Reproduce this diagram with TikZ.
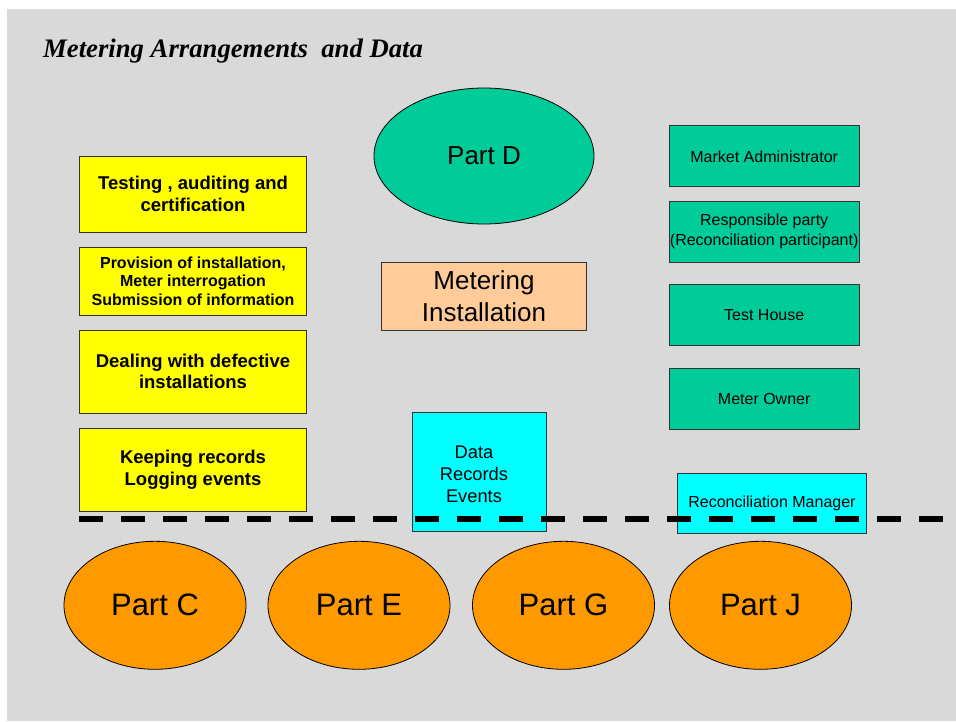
\documentclass[tikz,border=0pt]{standalone}
\usepackage{fontspec}
\setmainfont{Liberation Serif}
\setsansfont{Liberation Sans}
\usetikzlibrary{positioning, shapes.geometric}
\definecolor{panelgray}{RGB}{217,217,217}
\definecolor{taskyellow}{RGB}{255,255,0}
\definecolor{partygreen}{RGB}{0,204,153}
\definecolor{instpeach}{RGB}{255,204,153}
\definecolor{datacyan}{RGB}{0,255,255}
\definecolor{partorange}{RGB}{255,153,0}
\tikzstyle{task} = [draw=black!80,fill=taskyellow,rectangle,line width=1pt,minimum width=227pt,inner sep=0pt,outer sep=0pt,align=center,font=\sffamily\bfseries\fontsize{18.5}{21.5}\selectfont]
\tikzstyle{party} = [draw=black!80,fill=partygreen,rectangle,line width=1pt,minimum width=190pt,minimum height=61pt,inner sep=0pt,outer sep=0pt,align=center,font=\sffamily\fontsize{16}{19.5}\selectfont]
\tikzstyle{datastore} = [draw=black!80,fill=datacyan,rectangle,line width=1pt,inner sep=0pt]
\tikzstyle{part} = [draw,ellipse,line width=0.8pt,fill=partorange,inner sep=0pt,minimum width=182pt,minimum height=128pt,font=\sffamily\fontsize{31}{36}\selectfont]
\tikzstyle{cut} = [line width=6pt,dash pattern=on 24pt off 18pt]

\begin{document}
\begin{tikzpicture}[x=1pt,y=-1pt]
\useasboundingbox (0,0) rectangle (956,721);
\fill[panelgray] (7,9) rectangle (956,721);

  \node[anchor=base west, inner sep=0pt, font=\bfseries\itshape\fontsize{26.7}{30}\selectfont] (title) at (43,57) {Metering Arrangements\ \ and Data};

% the obligations, left column
  \node[task, minimum height=76pt] (testing) at (193,194) {Testing , auditing and\\certification};
  \node[task, minimum height=68pt, below = 15pt of testing, font=\sffamily\bfseries\fontsize{16}{18.7}\selectfont] (provision) {
  	Provision of installation,\\
  	Meter interrogation\\
  	Submission of information
  };
  \node[task, minimum height=83pt, below = 15pt of provision] (defects) {Dealing with defective\\installations};
  \node[task, minimum height=83pt, below = 15pt of defects] (records) {Keeping records\\Logging events};

% middle column
  \node[part, fill=partygreen, minimum width=220pt, minimum height=136pt, font=\sffamily\fontsize{26}{30}\selectfont] (partD) at (484,156) {Part D};

  \node[draw=black!80, fill=instpeach, line width=1pt, inner sep=0pt, minimum width=205pt, minimum height=68pt, align=center, font=\sffamily\fontsize{26}{31.7}\selectfont] (meter) at (484,296.3) {Metering\\Installation};

  \node[datastore, minimum width=134pt, minimum height=119pt] (data) at (479.3,472.2) {};
  \node[align=center, inner sep=0pt, font=\sffamily\fontsize{18.3}{22}\selectfont] (datatext) at (474,474) {Data\\Records\\Events};

% the parties, right column
  \node[party] (admin) at (764.2,156.3) {Market Administrator};
  \node[party, below = 14.3pt of admin] (responsible) {Responsible party\\(Reconciliation participant)};
  \node[party, below = 22.3pt of responsible] (testhouse) {Test House};
  \node[party, below = 22.7pt of testhouse] (owner) {Meter Owner};

  \node[datastore, minimum width=189.4pt, minimum height=60pt, font=\sffamily\fontsize{16}{19.5}\selectfont] (recman) at (772,503.3) {Reconciliation Manager};

% the parts of the code
  \node[part] (partC) at (155,605.3) {Part C};
  \node[part] (partE) at (359,605.3) {Part E};
  \node[part] (partG) at (563.5,605.3) {Part G};
  \node[part] (partJ) at (760.5,605.3) {Part J};

% now the dividing line
  \coordinate (cutL) at (79,519);
  \coordinate (cutR) at (943,519);
  \draw[cut] (cutL) -- (cutR);
\end{tikzpicture}
\end{document}
